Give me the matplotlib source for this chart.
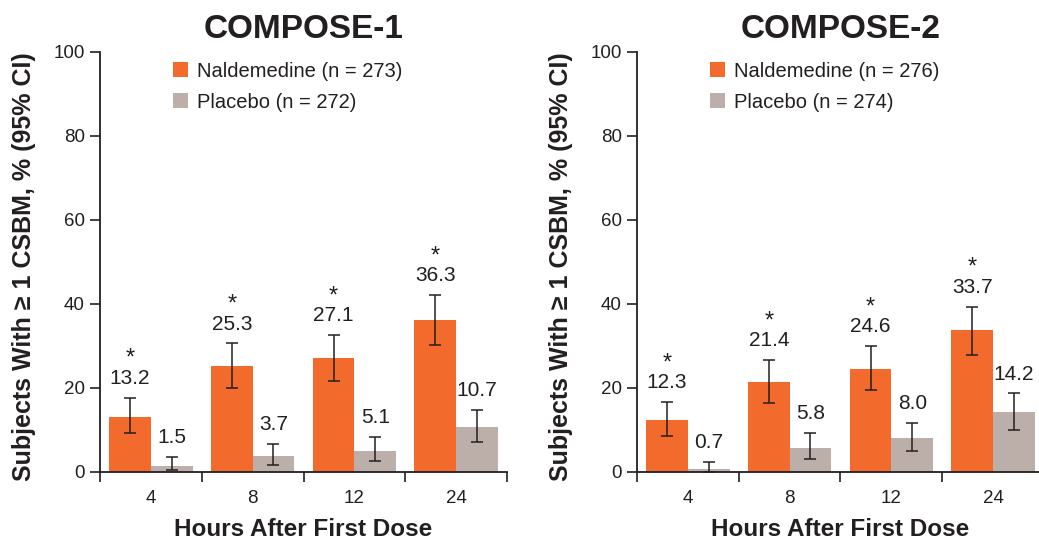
import matplotlib
matplotlib.use("Agg")
import matplotlib.pyplot as plt
import numpy as np

plt.rcParams['font.family'] = ['Liberation Sans', 'DejaVu Sans']

hours = ["4", "8", "12", "24"]

# COMPOSE-1
c1_nal = [13.2, 25.3, 27.1, 36.3]
c1_nal_lo = [9.3, 20.1, 21.7, 30.3]
c1_nal_hi = [17.7, 30.6, 32.6, 42.1]
c1_pla = [1.5, 3.7, 5.1, 10.7]
c1_pla_lo = [0.4, 1.7, 2.7, 7.1]
c1_pla_hi = [3.6, 6.6, 8.3, 14.8]

# COMPOSE-2
c2_nal = [12.3, 21.4, 24.6, 33.7]
c2_nal_lo = [8.6, 16.4, 19.5, 27.9]
c2_nal_hi = [16.6, 26.6, 30.0, 39.4]
c2_pla = [0.7, 5.8, 8.0, 14.2]
c2_pla_lo = [0.0, 3.2, 4.9, 10.1]
c2_pla_hi = [2.5, 9.2, 11.7, 18.7]

orange = "#F26A2C"
gray = "#BCAFA9"
ink = "#231F20"

fig = plt.figure(figsize=(10.39, 5.4), dpi=100)


def panel(rect, title, nal, nal_lo, nal_hi, pla, pla_lo, pla_hi, n_nal, n_pla):
    ax = fig.add_axes(rect)
    x = np.arange(len(hours))
    w = 0.41
    ax.bar(x - w / 2, nal, w, color=orange, label=f"Naldemedine (n = {n_nal})")
    ax.bar(x + w / 2, pla, w, color=gray, label=f"Placebo (n = {n_pla})")
    for xs, v, lo, hi in [(x - w / 2, nal, nal_lo, nal_hi), (x + w / 2, pla, pla_lo, pla_hi)]:
        v = np.array(v)
        err = [v - np.array(lo), np.array(hi) - v]
        ax.errorbar(xs, v, yerr=err, fmt="none", ecolor=ink, elinewidth=1.1,
                    capsize=4, capthick=1.1)
    for i in range(len(hours)):
        ax.annotate(f"{nal[i]:.1f}", (x[i] - w / 2, nal_hi[i]), xytext=(0, 14),
                    textcoords="offset points", ha="center", va="center",
                    fontsize=15, color=ink)
        ax.annotate("*", (x[i] - w / 2, nal_hi[i]), xytext=(0, 28),
                    textcoords="offset points", ha="center", va="center",
                    fontsize=17, color=ink)
        ax.annotate(f"{pla[i]:.1f}", (x[i] + w / 2, pla_hi[i]), xytext=(0, 14),
                    textcoords="offset points", ha="center", va="center",
                    fontsize=15, color=ink)
    ax.set_xlim(-0.5, len(hours) - 0.5)
    ax.set_ylim(0, 100)
    ax.set_yticks(np.arange(0, 101, 20))
    ax.set_xticks(x)
    ax.set_xticklabels(hours)
    ax.set_xticks(np.arange(-0.5, len(hours), 1), minor=True)
    ax.tick_params(axis="x", which="major", length=0, pad=13, labelsize=13.5, colors=ink)
    ax.tick_params(axis="x", which="minor", length=7, width=1.2, color=ink)
    ax.tick_params(axis="y", length=7, width=1.2, labelsize=13.5, colors=ink, pad=4)
    for s in ["top", "right"]:
        ax.spines[s].set_visible(False)
    for s in ["left", "bottom"]:
        ax.spines[s].set_linewidth(1.3)
        ax.spines[s].set_color(ink)
    ax.set_title(title, fontsize=24, fontweight="bold", color=ink, pad=10)
    ax.set_xlabel("Hours After First Dose", fontsize=17.5, fontweight="bold", color=ink, labelpad=8)
    ax.set_ylabel("Subjects With \u2265 1 CSBM, % (95% CI)", fontsize=18, fontweight="bold",
                  color=ink)
    ax.yaxis.set_label_coords(-0.158, 0.488)
    ax.legend(loc="upper left", bbox_to_anchor=(0.135, 1.02), frameon=False,
              fontsize=14.5, handlelength=0.75, handleheight=0.75,
              handletextpad=0.45, labelspacing=0.6, labelcolor=ink)
    return ax


panel([100 / 1039, 68 / 540, 407 / 1039, 420 / 540], "COMPOSE-1",
      c1_nal, c1_nal_lo, c1_nal_hi, c1_pla, c1_pla_lo, c1_pla_hi, 273, 272)
panel([637 / 1039, 68 / 540, 407 / 1039, 420 / 540], "COMPOSE-2",
      c2_nal, c2_nal_lo, c2_nal_hi, c2_pla, c2_pla_lo, c2_pla_hi, 276, 274)

fig.savefig("out.png", dpi=100)
